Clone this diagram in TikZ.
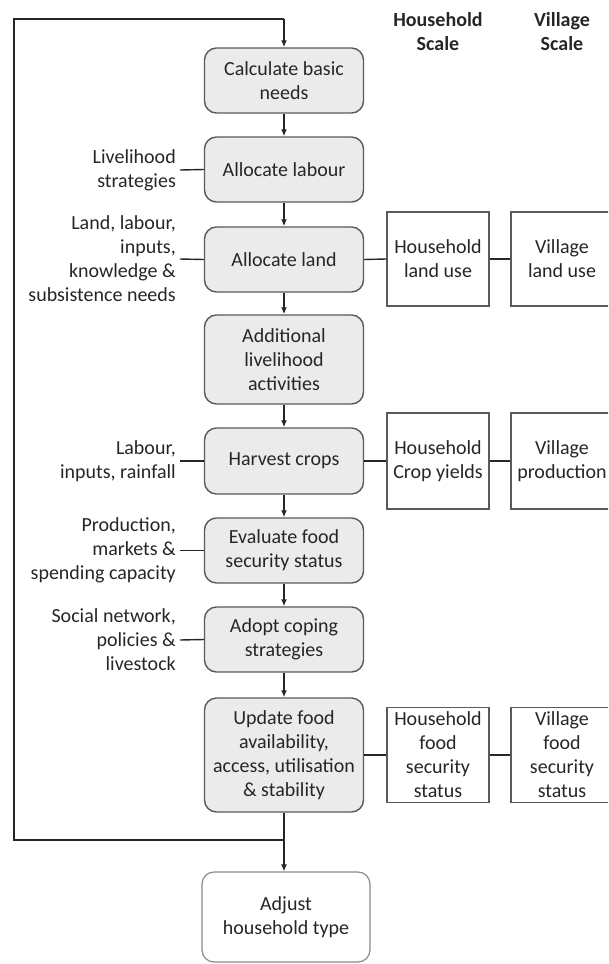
\documentclass[tikz,border=0pt]{standalone}
\usepackage{fontspec}
\setmainfont{Carlito}
\usetikzlibrary{arrows.meta}
\definecolor{boxfill}{HTML}{EBEBEB}
\definecolor{boxline}{HTML}{5A5A5A}
\definecolor{ink}{HTML}{262626}
\begin{document}
\begin{tikzpicture}[x=1pt,y=-1pt,
  every node/.style={font=\fontsize{20}{24}\selectfont, text=ink},
  proc/.style={draw=boxline, line width=1.4pt, fill=boxfill, rounded corners=12pt,
    minimum width=159pt, align=center, inner sep=0pt},
  endbox/.style={draw=boxline!70, line width=1.2pt, fill=white, rounded corners=12pt,
    minimum width=168pt, align=center, inner sep=0pt},
  scalebox/.style={draw=boxline, line width=1.3pt, fill=white, minimum width=102pt,
    align=center, inner sep=0pt},
  inlabel/.style={align=right, anchor=east, inner xsep=4pt, inner ysep=0pt},
  head/.style={align=center, font=\fontsize{20}{24}\selectfont\bfseries},
  flow/.style={draw=ink, line width=1.4pt, -{Latex[length=7pt,width=6pt]}},
  link/.style={draw=ink, line width=1.4pt}
]
\useasboundingbox (0,0) rectangle (608,964);
\clip (0,0) rectangle (608,964);

% headers
\node[head] (hh) at (438,32) {Household\\Scale};
\node[head] (vh) at (562,32) {Village\\Scale};

% process boxes
\node[proc, minimum height=65pt] (b1) at (284,80.5) {Calculate basic\\needs};
\node[proc, minimum height=65pt] (b2) at (284,169.5) {Allocate labour};
\node[proc, minimum height=65pt] (b3) at (284,259.5) {Allocate land};
\node[proc, minimum height=89pt] (b4) at (284,359.5) {Additional\\livelihood\\activities};
\node[proc, minimum height=66pt] (b5) at (284,461) {Harvest crops};
\node[proc, minimum height=65pt] (b6) at (284,550.5) {Evaluate food\\security status};
\node[proc, minimum height=65pt] (b7) at (284,639.5) {Adopt coping\\strategies};
\node[proc, minimum height=114pt] (b8) at (284,755) {Update food\\availability,\\access, utilisation\\\& stability};
\node[endbox, minimum height=90pt] (b9) at (286,917) {Adjust\\household type};

% scale boxes
\node[scalebox, minimum height=94pt] (h1) at (438,259) {Household\\land use};
\node[scalebox, minimum height=94pt] (v1) at (562,259) {Village\\land use};
\node[scalebox, minimum height=96pt] (h2) at (438,461) {Household\\Crop yields};
\node[scalebox, minimum height=96pt] (v2) at (562,461) {Village\\production};
\node[scalebox, minimum height=95pt] (h3) at (438,755) {Household\\food\\security\\status};
\node[scalebox, minimum height=95pt] (v3) at (562,755) {Village\\food\\security\\status};

% input labels
\node[inlabel] (l2) at (180,170) {Livelihood\\strategies};
\node[inlabel] (l3) at (180,259) {Land, labour,\\inputs,\\knowledge \&\\subsistence needs};
\node[inlabel] (l5) at (180,461) {Labour,\\inputs, rainfall};
\node[inlabel] (l6) at (180,550.5) {Production,\\markets \&\\spending capacity};
\node[inlabel] (l7) at (180,640) {Social network,\\policies \&\\livestock};

% main flow
\draw[flow] (b1) -- (b2);
\draw[flow] (b2) -- (b3);
\draw[flow] (b3) -- (b4);
\draw[flow] (b4) -- (b5);
\draw[flow] (b5) -- (b6);
\draw[flow] (b6) -- (b7);
\draw[flow] (b7) -- (b8);
\draw[flow] (b8.south) -- (b8.south |- b9.north);

% loop back
\coordinate (lj) at (284,840);
\coordinate (lbl) at (14,840);
\coordinate (ltl) at (14,19);
\coordinate (ltr) at (284,19);
\draw[link] (lj) -- (lbl) -- (ltl) -- (ltr);
\draw[flow] (ltr) -- (b1.north);

% input connectors
\draw[link] (l2.east) -- (b2.west);
\draw[link] (l3.east) -- (b3.west);
\draw[link] (l5.east) -- (b5.west);
\draw[link] (l6.east) -- (b6.west);
\draw[link] (l7.east) -- (b7.west);

% scale connectors
\draw[link] (b3.east) -- (h1.west);
\draw[link] (h1.east) -- (v1.west);
\draw[link] (b5.east) -- (h2.west);
\draw[link] (h2.east) -- (v2.west);
\draw[link] (b8.east) -- (h3.west);
\draw[link] (h3.east) -- (v3.west);
\end{tikzpicture}
\end{document}
